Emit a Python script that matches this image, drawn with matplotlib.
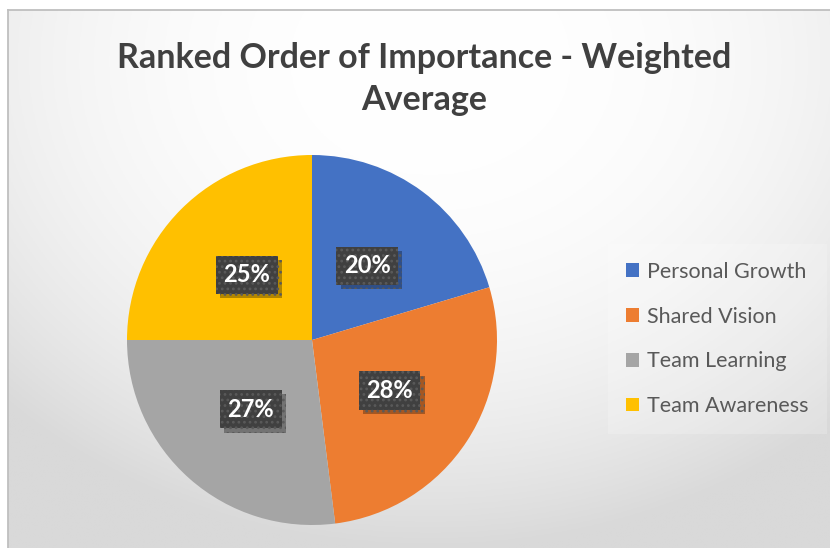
import numpy as np
import matplotlib
matplotlib.use("Agg")
import matplotlib.pyplot as plt
import matplotlib.patheffects as pe

plt.rcParams['font.family'] = ['Lato', 'DejaVu Sans']
plt.rcParams['hatch.linewidth'] = 1.2

# data
categories = ['Personal Growth', 'Shared Vision', 'Team Learning', 'Team Awareness']
values = [20.4, 27.6, 27.0, 25.0]
colors = ['#4472C4', '#ED7D31', '#A5A5A5', '#FFC000']
title = 'Ranked Order of Importance - Weighted\nAverage'

W, H = 830, 548
fig = plt.figure(figsize=(W / 100, H / 100), dpi=100)
fig.patch.set_facecolor('white')

# chart area background (radial gradient), from x=8, y=10 (top) to the edges
bg = fig.add_axes([8 / W, 0, 1 - 8 / W, 1 - 10 / H])
xx, yy = np.meshgrid(np.linspace(8, W, 300), np.linspace(10, H, 200))
r = np.sqrt(((xx - 430) / 600) ** 2 + ((yy - 60) / 490) ** 2)
f = np.clip(r, 0, 1) ** 2.5
c = (255 - 38 * f) / 255
img = np.dstack([c, c, c])
bg.imshow(img, extent=[0, 1, 0, 1], aspect='auto', origin='upper')
bg.set_xlim(0, 1)
bg.set_ylim(0, 1)
bg.set_xticks([])
bg.set_yticks([])
for s in ['right', 'bottom']:
    bg.spines[s].set_visible(False)
for s in ['left', 'top']:
    bg.spines[s].set_color('#bfbfbf')
    bg.spines[s].set_linewidth(1.3)

fig.text(424 / W, 1 - 79 / H, title, ha='center', va='center', fontsize=24.5,
         fontweight='bold', color='#404040', linespacing=1.42)

# pie
cx, cy, rad = 312, 340, 185
ax = fig.add_axes([(cx - rad) / W, (H - cy - rad) / H, 2 * rad / W, 2 * rad / H])
wedges, _ = ax.pie(values, colors=colors, startangle=90, counterclock=False,
                   radius=1, wedgeprops=dict(linewidth=0))
ax.set_xlim(-1, 1)
ax.set_ylim(-1, 1)
ax.axis('off')

total = sum(values)
for w, v in zip(wedges, values):
    ang = np.deg2rad((w.theta1 + w.theta2) / 2)
    x, y = 0.5 * np.cos(ang), 0.5 * np.sin(ang)
    lab = '%d%%' % round(v / total * 100)
    t = ax.text(x, y, lab, ha='center', va='center', fontsize=17,
                fontweight='bold', color='white',
                bbox=dict(boxstyle='square,pad=0.32', facecolor='#404040',
                          edgecolor='#5a5a5a', hatch='...', linewidth=0))
    t.get_bbox_patch().set_path_effects(
        [pe.SimplePatchShadow(offset=(3, -3), shadow_rgbFace='black', alpha=0.3),
         pe.Normal()])

leg = fig.legend(wedges, categories, loc='center left',
                 bbox_to_anchor=(614 / W, 1 - 339 / H), frameon=True,
                 fontsize=15.5, handlelength=0.6, handleheight=0.6,
                 handletextpad=0.4, labelspacing=1.15, borderpad=0.55,
                 borderaxespad=0)
leg.get_frame().set_facecolor('white')
leg.get_frame().set_alpha(0.2)
leg.get_frame().set_linewidth(0)
leg.get_frame().set_boxstyle('square')
for t in leg.get_texts():
    t.set_color('#595959')

fig.savefig('out.png', dpi=100)
